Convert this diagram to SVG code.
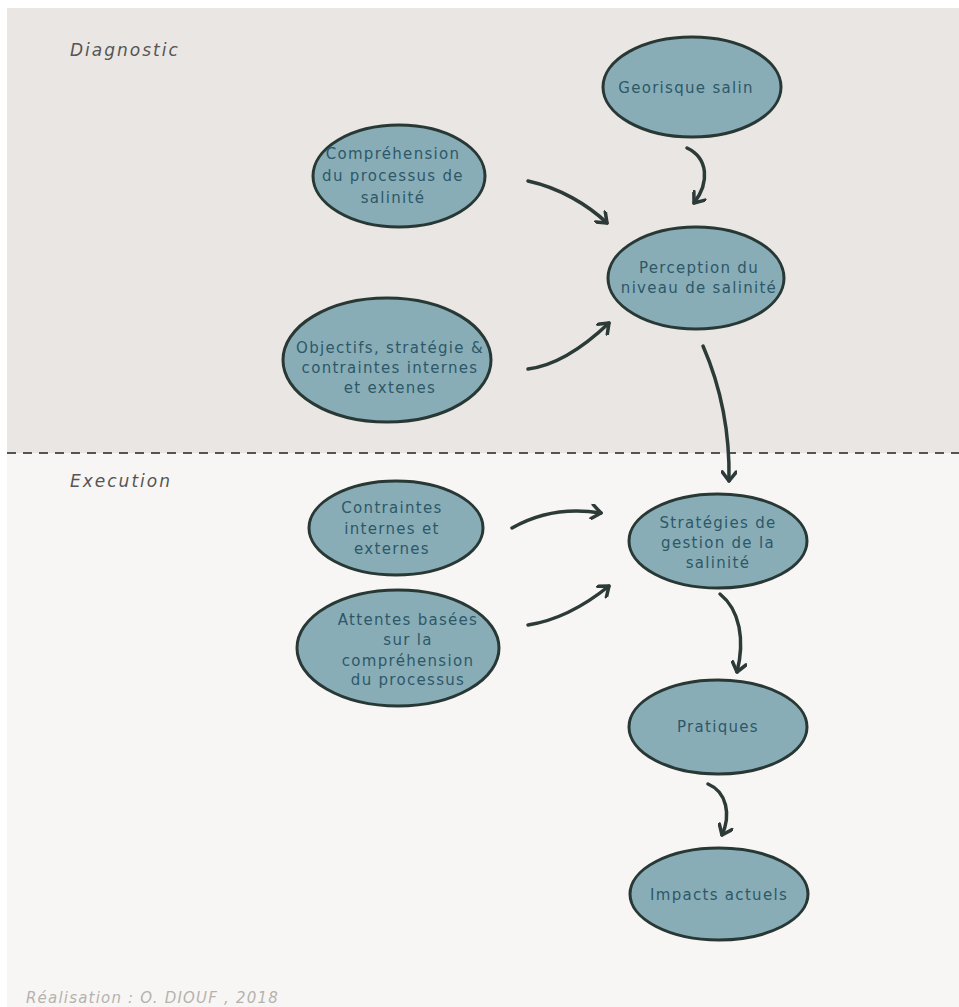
<svg xmlns="http://www.w3.org/2000/svg" width="959" height="1007" viewBox="0 0 959 1007">
<defs>
<style>
.node ellipse{fill:#89adb7;stroke:#283835;stroke-width:3}
.node text{font-family:"DejaVu Sans","Open Sans",sans-serif;font-size:15px;fill:#2d5868;text-anchor:middle;letter-spacing:1.3px}
.lbl{font-family:"DejaVu Sans","Open Sans",sans-serif;font-style:italic;font-size:17px;fill:#555555;letter-spacing:2px}
.conn path{fill:none;stroke:#2c3b38;stroke-width:3.5;stroke-linecap:round}
</style>
<marker id="ah" markerWidth="16" markerHeight="16" refX="11" refY="8" orient="auto" markerUnits="userSpaceOnUse">
<path d="M2,1 L11,8 L2,15" fill="none" stroke="#2c3b38" stroke-width="3.5" stroke-linecap="round" stroke-linejoin="round"/>
</marker>
</defs>
<rect x="0" y="0" width="959" height="1007" fill="#ffffff"/>
<rect x="7" y="8" width="952" height="445" fill="#e9e6e3"/>
<rect x="7" y="453" width="952" height="554" fill="#f8f6f4"/>
<line x1="7" y1="453" x2="959" y2="453" stroke="#555" stroke-width="2" stroke-dasharray="9,7"/>
<text class="lbl" x="70" y="56">Diagnostic</text>
<text class="lbl" x="70" y="487">Execution</text>
<text class="lbl" x="26" y="1003" style="fill:#b5b2ae;font-size:15px;letter-spacing:1.2px">Réalisation : O. DIOUF , 2018</text>

<g class="conn" id="connectors">
<path d="M687,148 C708,158 710,182 694,203" marker-end="url(#ah)"/>
<path d="M528,181 C560,188 588,205 607,223" marker-end="url(#ah)"/>
<path d="M528,369 C560,365 588,343 609,323" marker-end="url(#ah)"/>
<path d="M703,346 C720,385 730,430 729,481" marker-end="url(#ah)"/>
<path d="M512,528 C540,512 570,508 601,513" marker-end="url(#ah)"/>
<path d="M528,625 C560,620 588,603 609,586" marker-end="url(#ah)"/>
<path d="M720,594 C740,610 745,640 737,672" marker-end="url(#ah)"/>
<path d="M708,784 C727,792 731,815 722,835" marker-end="url(#ah)"/>
</g>

<g class="node" id="georisque"><ellipse cx="692" cy="87" rx="89" ry="50"/><text x="686" y="93">Georisque salin</text></g>
<g class="node" id="comprehension"><ellipse cx="399" cy="176" rx="86" ry="51"/><text x="393" y="159">Compréhension</text><text x="393" y="181">du processus de</text><text x="393" y="203">salinité</text></g>
<g class="node" id="perception"><ellipse cx="696" cy="278" rx="88" ry="51"/><text x="699" y="273">Perception du</text><text x="699" y="293">niveau de salinité</text></g>
<g class="node" id="objectifs"><ellipse cx="387" cy="360" rx="104" ry="62"/><text x="390" y="353">Objectifs, stratégie &amp;</text><text x="390" y="373">contraintes internes</text><text x="390" y="393">et extenes</text></g>
<g class="node" id="contraintes"><ellipse cx="396" cy="528" rx="87" ry="47"/><text x="392" y="513">Contraintes</text><text x="392" y="534">internes et</text><text x="392" y="554">externes</text></g>
<g class="node" id="attentes"><ellipse cx="398" cy="648" rx="101" ry="58"/><text x="408" y="625">Attentes basées</text><text x="408" y="645">sur la</text><text x="408" y="666">compréhension</text><text x="408" y="685">du processus</text></g>
<g class="node" id="strategies"><ellipse cx="718" cy="541" rx="89" ry="47"/><text x="718" y="528">Stratégies de</text><text x="718" y="548">gestion de la</text><text x="718" y="568">salinité</text></g>
<g class="node" id="pratiques"><ellipse cx="718" cy="727" rx="89" ry="47"/><text x="718" y="732">Pratiques</text></g>
<g class="node" id="impacts"><ellipse cx="719" cy="894" rx="89" ry="46"/><text x="719" y="900">Impacts actuels</text></g>
</svg>
